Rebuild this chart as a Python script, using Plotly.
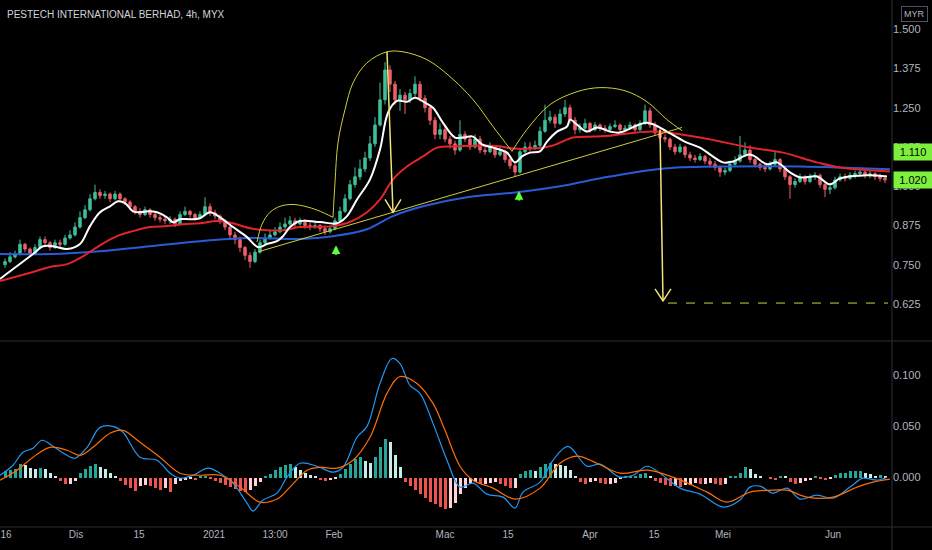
import plotly.graph_objects as go

# ---- price data (4h bars) ----
closes = [
    0.760, 0.775, 0.785, 0.815, 0.800, 0.785, 0.805, 0.830, 0.820, 0.805,
    0.820, 0.815, 0.835, 0.845, 0.870, 0.900, 0.925, 0.960, 0.980, 0.970,
    0.975, 0.960, 0.975, 0.960, 0.950, 0.935, 0.920, 0.910, 0.925, 0.910,
    0.900, 0.895, 0.890, 0.895, 0.880, 0.910, 0.920, 0.910, 0.900, 0.910,
    0.935, 0.915, 0.905, 0.890, 0.870, 0.845, 0.830, 0.805, 0.780, 0.760,
    0.790, 0.820, 0.835, 0.845, 0.855, 0.870, 0.880, 0.890, 0.880, 0.885,
    0.875, 0.870, 0.875, 0.865, 0.855, 0.865, 0.890, 0.920, 0.960, 1.005,
    1.030, 1.055, 1.090, 1.135, 1.195, 1.275, 1.370, 1.325, 1.275, 1.290,
    1.275, 1.295, 1.325, 1.280, 1.250, 1.210, 1.165, 1.180, 1.150, 1.135,
    1.115, 1.165, 1.150, 1.125, 1.150, 1.115, 1.110, 1.125, 1.100, 1.110,
    1.085, 1.065, 1.045, 1.110, 1.125, 1.120, 1.130, 1.175, 1.210, 1.220,
    1.200, 1.230, 1.250, 1.210, 1.180, 1.185, 1.200, 1.180, 1.195, 1.185,
    1.180, 1.190, 1.195, 1.180, 1.185, 1.195, 1.180, 1.200, 1.240, 1.195,
    1.170, 1.155, 1.150, 1.125, 1.110, 1.125, 1.100, 1.090, 1.085, 1.095,
    1.080, 1.070, 1.060, 1.045, 1.050, 1.070, 1.080, 1.100, 1.115, 1.085,
    1.070, 1.060, 1.055, 1.070, 1.085, 1.055, 1.030, 1.005, 1.015, 1.030,
    1.015, 1.030, 1.035, 1.005, 0.990, 0.995, 1.020, 1.030, 1.025, 1.035,
    1.040, 1.045, 1.035, 1.040, 1.030, 1.025, 1.020,
]
highs = [
    0.770, 0.790, 0.795, 0.830, 0.820, 0.805, 0.815, 0.840, 0.840, 0.825,
    0.830, 0.830, 0.845, 0.860, 0.885, 0.920, 0.940, 0.975, 1.005, 0.990,
    0.985, 0.980, 0.985, 0.980, 0.965, 0.955, 0.940, 0.930, 0.935, 0.930,
    0.915, 0.910, 0.905, 0.905, 0.900, 0.920, 0.935, 0.925, 0.915, 0.920,
    0.965, 0.945, 0.925, 0.910, 0.895, 0.875, 0.855, 0.840, 0.810, 0.790,
    0.800, 0.830, 0.850, 0.860, 0.870, 0.885, 0.900, 0.905, 0.900, 0.900,
    0.895, 0.885, 0.885, 0.880, 0.875, 0.875, 0.900, 0.935, 0.975, 1.020,
    1.060, 1.085, 1.110, 1.160, 1.220, 1.330, 1.395, 1.385, 1.335, 1.310,
    1.300, 1.310, 1.350, 1.335, 1.290, 1.260, 1.220, 1.200, 1.190, 1.160,
    1.145, 1.210, 1.175, 1.160, 1.165, 1.160, 1.125, 1.140, 1.130, 1.125,
    1.115, 1.095, 1.075, 1.120, 1.140, 1.140, 1.145, 1.190, 1.260, 1.240,
    1.230, 1.245, 1.275, 1.260, 1.220, 1.200, 1.215, 1.205, 1.205, 1.200,
    1.195, 1.200, 1.210, 1.200, 1.195, 1.205, 1.200, 1.210, 1.260, 1.250,
    1.205, 1.180, 1.165, 1.155, 1.135, 1.135, 1.130, 1.110, 1.100, 1.105,
    1.100, 1.090, 1.080, 1.065, 1.060, 1.080, 1.095, 1.160, 1.140, 1.130,
    1.090, 1.075, 1.070, 1.080, 1.110, 1.090, 1.060, 1.035, 1.025, 1.040,
    1.035, 1.040, 1.045, 1.040, 1.010, 1.005, 1.030, 1.040, 1.040, 1.045,
    1.050, 1.060, 1.050, 1.050, 1.045, 1.040, 1.035,
]
lows = [
    0.740, 0.755, 0.770, 0.780, 0.790, 0.775, 0.780, 0.800, 0.810, 0.795,
    0.800, 0.805, 0.810, 0.830, 0.840, 0.865, 0.895, 0.920, 0.955, 0.960,
    0.960, 0.950, 0.955, 0.950, 0.940, 0.925, 0.910, 0.900, 0.905, 0.900,
    0.890, 0.885, 0.880, 0.880, 0.870, 0.875, 0.905, 0.900, 0.890, 0.895,
    0.905, 0.905, 0.895, 0.880, 0.860, 0.835, 0.815, 0.790, 0.765, 0.740,
    0.755, 0.785, 0.815, 0.830, 0.840, 0.850, 0.865, 0.875, 0.870, 0.875,
    0.865, 0.860, 0.865, 0.855, 0.845, 0.850, 0.860, 0.885, 0.915, 0.955,
    0.995, 1.020, 1.045, 1.080, 1.125, 1.190, 1.260, 1.300, 1.260, 1.240,
    1.230, 1.265, 1.285, 1.270, 1.235, 1.195, 1.150, 1.150, 1.140, 1.120,
    1.100, 1.110, 1.140, 1.115, 1.120, 1.105, 1.100, 1.105, 1.090, 1.095,
    1.075, 1.055, 1.030, 1.040, 1.105, 1.110, 1.115, 1.125, 1.170, 1.200,
    1.185, 1.195, 1.220, 1.200, 1.165, 1.170, 1.180, 1.170, 1.175, 1.175,
    1.170, 1.175, 1.185, 1.170, 1.175, 1.180, 1.170, 1.175, 1.195, 1.185,
    1.160, 1.145, 1.140, 1.115, 1.100, 1.105, 1.090, 1.080, 1.075, 1.080,
    1.070, 1.060, 1.050, 1.030, 1.035, 1.045, 1.065, 1.075, 1.095, 1.075,
    1.060, 1.050, 1.045, 1.050, 1.065, 1.045, 1.020, 0.960, 0.995, 1.010,
    1.005, 1.010, 1.020, 0.995, 0.965, 0.975, 0.990, 1.015, 1.015, 1.020,
    1.025, 1.030, 1.025, 1.025, 1.020, 1.015, 1.010,
]
first_open = 0.750
opens = [first_open] + closes[:-1]
bars = list(range(len(closes)))

# MACD histogram, one value per bar
macd_hist = [
    0.006, 0.007, 0.008, 0.013, 0.012, 0.009, 0.008, 0.009, 0.008, 0.005,
    0.001, -0.003, -0.006, -0.006, -0.003, 0.005, 0.008, 0.011, 0.013, 0.010,
    0.008, 0.005, 0.002, -0.003, -0.007, -0.010, -0.013, -0.008, -0.007, -0.008,
    -0.010, -0.012, -0.010, -0.014, -0.006, -0.003, -0.002, -0.001, -0.002, 0.001,
    0.002, -0.001, -0.003, -0.005, -0.007, -0.009, -0.011, -0.013, -0.014, -0.012,
    -0.008, -0.004, 0.002, 0.004, 0.007, 0.010, 0.012, 0.013, 0.010, 0.007,
    0.005, 0.003, 0.001, -0.002, -0.003, -0.002, -0.001, 0.004, 0.008, 0.013,
    0.018, 0.020, 0.016, 0.014, 0.020, 0.030, 0.038, 0.035, 0.022, 0.010,
    -0.004, -0.008, -0.012, -0.016, -0.020, -0.024, -0.026, -0.029, -0.031, -0.030,
    -0.025, -0.016, -0.010, -0.006, -0.004, -0.006, -0.006, -0.005, -0.004, -0.006,
    -0.008, -0.010, -0.010, 0.004, 0.006, 0.007, 0.006, 0.010, 0.013, 0.014,
    0.013, 0.012, 0.011, 0.007, 0.002, -0.004, -0.006, -0.004, -0.003, -0.005,
    -0.006, -0.006, -0.005, -0.001, 0.001, 0.001, 0.002, 0.004, 0.005, 0.002,
    -0.003, -0.005, -0.007, -0.008, -0.008, -0.009, -0.007, -0.007, -0.005, -0.006,
    -0.006, -0.005, -0.006, -0.007, -0.006, 0.001, 0.002, 0.005, 0.010, 0.008,
    0.004, 0.001, 0.000, -0.001, -0.002, 0.002, 0.001, -0.004, -0.006, -0.005,
    -0.003, -0.002, 0.001, -0.001, -0.002, -0.001, 0.003, 0.005, 0.005, 0.006,
    0.006, 0.006, 0.005, 0.004, 0.002, 0.003, 0.002,
]

# moving averages (bar position, price)
ma_fast_x = [-1, 5.6, 7.6, 9.6, 12.4, 15, 17, 19, 21, 22.6, 24, 25.6, 27, 28.6, 30.4,
             32.4, 33.6, 35, 37, 39, 41, 43, 45.6, 48.4, 50.6, 52.4, 54.4, 55.6, 57,
             59, 63, 66.4, 68.4, 70.4, 73, 75, 76.6, 78.4, 80.4, 82, 84, 85.6, 87.6,
             90, 91.6, 93.6, 95.4, 97.6, 100.4, 102, 103.4, 105, 107, 108.4, 110.4,
             112.4, 113, 114.4, 116.4, 118.4, 121, 123, 128.4, 132.4, 136.4, 139,
             143.6, 145.6, 149, 152.4, 154.4, 157, 159, 162.4, 165, 167, 172.4, 176.4]
ma_fast_y = [0.705, 0.784, 0.809, 0.809, 0.800, 0.816, 0.873, 0.917, 0.936, 0.952,
             0.946, 0.920, 0.917, 0.920, 0.917, 0.901, 0.885, 0.895, 0.895, 0.898,
             0.917, 0.901, 0.870, 0.838, 0.806, 0.816, 0.825, 0.841, 0.870, 0.889,
             0.886, 0.882, 0.905, 0.958, 1.022, 1.117, 1.234, 1.272, 1.269, 1.282,
             1.266, 1.250, 1.202, 1.155, 1.155, 1.158, 1.133, 1.123, 1.107, 1.076,
             1.095, 1.107, 1.111, 1.142, 1.174, 1.190, 1.212, 1.196, 1.174, 1.187,
             1.174, 1.171, 1.202, 1.174, 1.139, 1.123, 1.076, 1.079, 1.101, 1.070,
             1.076, 1.044, 1.028, 1.031, 1.006, 1.025, 1.035, 1.031]

ma_mid_x = [-1, 5.6, 9, 12.4, 15.6, 19, 22.4, 25.6, 29, 32.4, 35.6, 39, 42.4, 45.6,
            49, 52.4, 55.6, 59, 65.6, 69, 72.4, 75, 77.6, 80.4, 83.6, 86.4, 90.4,
            95, 99, 101.6, 105.6, 109.6, 113.6, 117.6, 121, 129.6, 139, 149, 155.6,
            162.4, 167, 177]
ma_mid_y = [0.698, 0.727, 0.743, 0.752, 0.777, 0.812, 0.841, 0.857, 0.870, 0.873,
            0.879, 0.882, 0.889, 0.882, 0.866, 0.860, 0.860, 0.870, 0.873, 0.886,
            0.917, 0.958, 1.022, 1.063, 1.095, 1.123, 1.127, 1.130, 1.127, 1.120,
            1.120, 1.130, 1.155, 1.158, 1.161, 1.174, 1.155, 1.123, 1.107, 1.076,
            1.060, 1.047]

ma_slow_x = [-1, 9, 19, 29, 39, 49, 59, 65.6, 72.4, 77.6, 83.6, 92.4, 102.4, 111,
             121, 132.4, 145.6, 159, 177]
ma_slow_y = [0.784, 0.784, 0.793, 0.809, 0.825, 0.835, 0.832, 0.841, 0.863, 0.905,
             0.936, 0.965, 0.981, 1.000, 1.031, 1.057, 1.063, 1.063, 1.054]

# MACD and signal lines (bar position, value)
macd_x = [-1, 1.6, 3.6, 5.6, 7.4, 9.6, 12.4, 14, 16.4, 19, 21.6, 23.6, 27, 30.4, 33,
          35, 37.6, 40.6, 43, 45.6, 48.4, 49.6, 51.6, 54.4, 56.4, 59, 62.4, 65.6,
          67.6, 70.4, 72.4, 75, 77.4, 79, 81, 83, 85.6, 88.4, 91, 93.6, 96.4, 99.6,
          102, 103.6, 107, 109.6, 112.6, 116.4, 119, 123, 125.6, 128.4, 131, 135,
          139, 143.6, 147, 149, 151, 153.6, 156.4, 159, 162.4, 165.6, 169, 171.6,
          174.4, 176.4]
macd_y = [0.0019, 0.0117, 0.0244, 0.0283, 0.0361, 0.0302, 0.0214, 0.0185, 0.0292,
          0.0487, 0.0497, 0.0439, 0.0195, 0.0166, 0.0039, -0.0010, 0.0019, 0.0088,
          0.0039, -0.0058, -0.0253, -0.0331, -0.0224, -0.0156, 0.0, 0.0136, 0.0107,
          0.0049, 0.0097, 0.0390, 0.0497, 0.0916, 0.1160, 0.1111, 0.0897, 0.0819,
          0.0526, 0.0166, -0.0097, -0.0058, -0.0166, -0.0195, -0.0302, -0.0146,
          -0.0049, 0.0166, 0.0302, 0.0107, 0.0127, 0.0, 0.0019, 0.0107, 0.0039,
          -0.0107, -0.0166, -0.0292, -0.0224, -0.0097, -0.0088, -0.0156, -0.0107,
          -0.0214, -0.0175, -0.0205, -0.0097, -0.0010, -0.0029, 0.0]

signal_x = [-1, 2.4, 5.6, 9, 12.4, 15, 17.6, 21, 23.6, 27, 31, 35, 39, 43, 47, 51,
            54.4, 57, 60.4, 63, 66.4, 69.6, 73, 76.4, 79, 82.4, 85.6, 88, 91, 93.6,
            97.6, 102, 107, 111, 114.4, 118.4, 123, 128.4, 133.6, 140.4, 144.4, 149,
            153.6, 156.4, 160.4, 165.6, 170.4, 173.6, 177]
signal_y = [-0.0029, 0.0068, 0.0195, 0.0292, 0.0263, 0.0214, 0.0292, 0.0429, 0.0458,
            0.0341, 0.0195, 0.0039, 0.0019, 0.0019, -0.0097, -0.0244, -0.0214,
            -0.0097, 0.0068, 0.0097, 0.0088, 0.0166, 0.0390, 0.0819, 0.0984, 0.0916,
            0.0721, 0.0458, 0.0107, -0.0029, -0.0107, -0.0214, -0.0107, 0.0136,
            0.0205, 0.0136, 0.0039, 0.0068, 0.0, -0.0146, -0.0244, -0.0146, -0.0127,
            -0.0127, -0.0195, -0.0195, -0.0097, -0.0049, -0.0019]

# hand-drawn pattern (head and shoulders)
shoulder_l_x = [50.4, 51.4, 53, 55, 57.4, 60, 62.6, 65.6]
shoulder_l_y = [0.822, 0.879, 0.917, 0.936, 0.942, 0.936, 0.923, 0.901]
head_x = [65.6, 66.0, 66.6, 68, 69.6, 72.4, 76.4, 79.6, 84.4, 89, 93.6, 97.6, 101.4]
head_y = [0.901, 1.012, 1.139, 1.244, 1.329, 1.393, 1.428, 1.428, 1.403, 1.349,
          1.276, 1.190, 1.111]
shoulder_r_x = [101.4, 104.4, 109, 114.4, 119, 124, 128.4, 132.4, 135.4]
shoulder_r_y = [1.111, 1.181, 1.260, 1.301, 1.314, 1.304, 1.269, 1.212, 1.177]
neck_x = [50.6, 135.4]
neck_y = [0.791, 1.187]
drop1_x = [76.4, 77.6]
drop1_y = [1.428, 0.917]
drop1_head_x = [76.0, 77.6, 79.2]
drop1_head_y = [0.958, 0.917, 0.958]
drop2_x = [131.0, 131.6]
drop2_y = [1.181, 0.635]
drop2_head_x = [130.0, 131.6, 133.2]
drop2_head_y = [0.673, 0.635, 0.673]
target_x = [132.6, 176.6]
target_y = [0.628, 0.628]
signal_arrows_x = [66.2, 102.8]
signal_arrows_y = [0.812, 0.985]

# axis labels
price_ticks = [0.625, 0.750, 0.875, 1.000, 1.125, 1.250, 1.375, 1.500]
macd_ticks = [0.0, 0.05, 0.10]
date_pos = [0.2, 14.2, 26.8, 41.8, 54, 65.8, 88, 100.6, 117, 129.8, 143.6, 165.6]
date_text = ['16', 'Dis', '15', '2021', '13:00', 'Feb', 'Mac', '15', 'Apr', '15', 'Mei', 'Jun']
price_tags = [1.110, 1.020]

UP = '#3dbf9a'
DOWN = '#ef5f6a'
AXIS_TXT = '#b2b5be'
FONT = 'Liberation Sans Narrow, Liberation Sans, Arial'
DRAW = '#cfcf3a'
ARROW = '#f2e27a'

# histogram colours (rising / falling)
hist_colors = []
prev = 0.0
for h in macd_hist:
    if h >= 0:
        hist_colors.append('#26a69a' if h >= prev else '#c8ece6')
    else:
        hist_colors.append('#ef5350' if h < prev else '#ffd3d6')
    prev = h

fig = go.Figure()

fig.add_trace(go.Candlestick(
    x=bars, open=opens, high=highs, low=lows, close=closes,
    increasing=dict(line=dict(color=UP, width=1), fillcolor=UP),
    decreasing=dict(line=dict(color=DOWN, width=1), fillcolor=DOWN),
    whiskerwidth=0, xaxis='x', yaxis='y', hoverinfo='skip',
))

for xs, ys, col in [(ma_slow_x, ma_slow_y, '#2a5bd7'),
                    (ma_mid_x, ma_mid_y, '#e3242b'),
                    (ma_fast_x, ma_fast_y, '#ffffff')]:
    fig.add_trace(go.Scatter(x=xs, y=ys, mode='lines', line=dict(color=col, width=2, shape='spline'),
                             xaxis='x', yaxis='y', hoverinfo='skip'))

# pattern drawings
for xs, ys in [(shoulder_l_x, shoulder_l_y), (head_x, head_y), (shoulder_r_x, shoulder_r_y)]:
    fig.add_trace(go.Scatter(x=xs, y=ys, mode='lines', line=dict(color=DRAW, width=1, shape='spline'),
                             xaxis='x', yaxis='y', hoverinfo='skip'))
fig.add_trace(go.Scatter(x=neck_x, y=neck_y, mode='lines', line=dict(color=DRAW, width=1),
                         xaxis='x', yaxis='y', hoverinfo='skip'))
for xs, ys in [(drop1_x, drop1_y), (drop1_head_x, drop1_head_y),
               (drop2_x, drop2_y), (drop2_head_x, drop2_head_y)]:
    fig.add_trace(go.Scatter(x=xs, y=ys, mode='lines', line=dict(color=ARROW, width=1.5),
                             xaxis='x', yaxis='y', hoverinfo='skip'))
fig.add_trace(go.Scatter(x=target_x, y=target_y, mode='lines', line=dict(color=DRAW, width=1, dash='dash'),
                         xaxis='x', yaxis='y', hoverinfo='skip'))

# MACD pane
fig.add_trace(go.Bar(x=bars, y=macd_hist, marker=dict(color=hist_colors, line=dict(width=0)),
                     width=0.6, xaxis='x', yaxis='y2', hoverinfo='skip'))
fig.add_trace(go.Scatter(x=macd_x, y=macd_y, mode='lines', line=dict(color='#2196f3', width=1.2, shape='spline'),
                         xaxis='x', yaxis='y2', hoverinfo='skip'))
fig.add_trace(go.Scatter(x=signal_x, y=signal_y, mode='lines', line=dict(color='#ff6d00', width=1.2, shape='spline'),
                         xaxis='x', yaxis='y2', hoverinfo='skip'))

annotations = [
    dict(text='PESTECH INTERNATIONAL BERHAD, 4h, MYX', xref='paper', yref='paper', x=0, y=1,
         xanchor='left', yanchor='middle', xshift=5, yshift=-14, showarrow=False,
         font=dict(family=FONT, size=10, color='#d1d4dc')),
    dict(text='MYR', xref='paper', yref='paper', x=1, y=1, xanchor='left', yanchor='middle',
         xshift=9, yshift=-14, showarrow=False, bordercolor='#50535e', borderwidth=1, borderpad=2,
         font=dict(family=FONT, size=9, color=AXIS_TXT)),
]
# green buy-signal arrows (with a short stem)
for ax_, ay_ in zip(signal_arrows_x, signal_arrows_y):
    annotations.append(dict(x=ax_, y=ay_, xref='x', yref='y', text='', showarrow=True,
                            ax=0, ay=11, arrowhead=2, arrowsize=0.7, arrowwidth=2.5,
                            arrowcolor='#5cff3a'))
for v in price_tags:
    annotations.append(dict(text=f'{v:.3f}', xref='paper', yref='y', x=1, y=v, xanchor='left',
                            yanchor='middle', xshift=1, showarrow=False, bgcolor='#7cf03c',
                            width=36, height=14, font=dict(family=FONT, size=11, color='#000000')))

shapes = [
    dict(type='line', xref='paper', yref='paper', x0=1, x1=1, y0=-0.05, y1=1,
         line=dict(color='#2a2e39', width=1)),
    dict(type='line', xref='paper', yref='paper', x0=0, x1=1.05, y0=0.353, y1=0.353,
         line=dict(color='#2a2e39', width=1)),
    dict(type='line', xref='paper', yref='paper', x0=0, x1=1.05, y0=0, y1=0,
         line=dict(color='#2a2e39', width=1)),
]

fig.update_layout(
    width=932, height=550,
    margin=dict(l=0, r=40, t=0, b=23),
    paper_bgcolor='#000000', plot_bgcolor='#000000',
    showlegend=False, hovermode=False, bargap=0,
    annotations=annotations, shapes=shapes,
    xaxis=dict(range=[-1, 177.4], anchor='y2', showgrid=False, zeroline=False,
               rangeslider=dict(visible=False), tickvals=date_pos, ticktext=date_text,
               tickfont=dict(family=FONT, size=10, color=AXIS_TXT), ticks=''),
    yaxis=dict(domain=[0.357, 1], range=[0.514, 1.593], side='right', anchor='x',
               showgrid=False, zeroline=False, tickvals=price_ticks,
               ticktext=[f'{v:.3f}' for v in price_ticks],
               tickfont=dict(family=FONT, size=11, color=AXIS_TXT), ticks=''),
    yaxis2=dict(domain=[0, 0.35], range=[-0.0487, 0.1316], side='right', anchor='x',
                showgrid=False, zeroline=False, tickvals=macd_ticks,
                ticktext=[f'{v:.3f}' for v in macd_ticks],
                tickfont=dict(family=FONT, size=11, color=AXIS_TXT), ticks=''),
)

fig.write_html("out.html", config={'displayModeBar': False},
               post_script="document.body.style.margin='0';document.body.style.overflow='hidden';")
